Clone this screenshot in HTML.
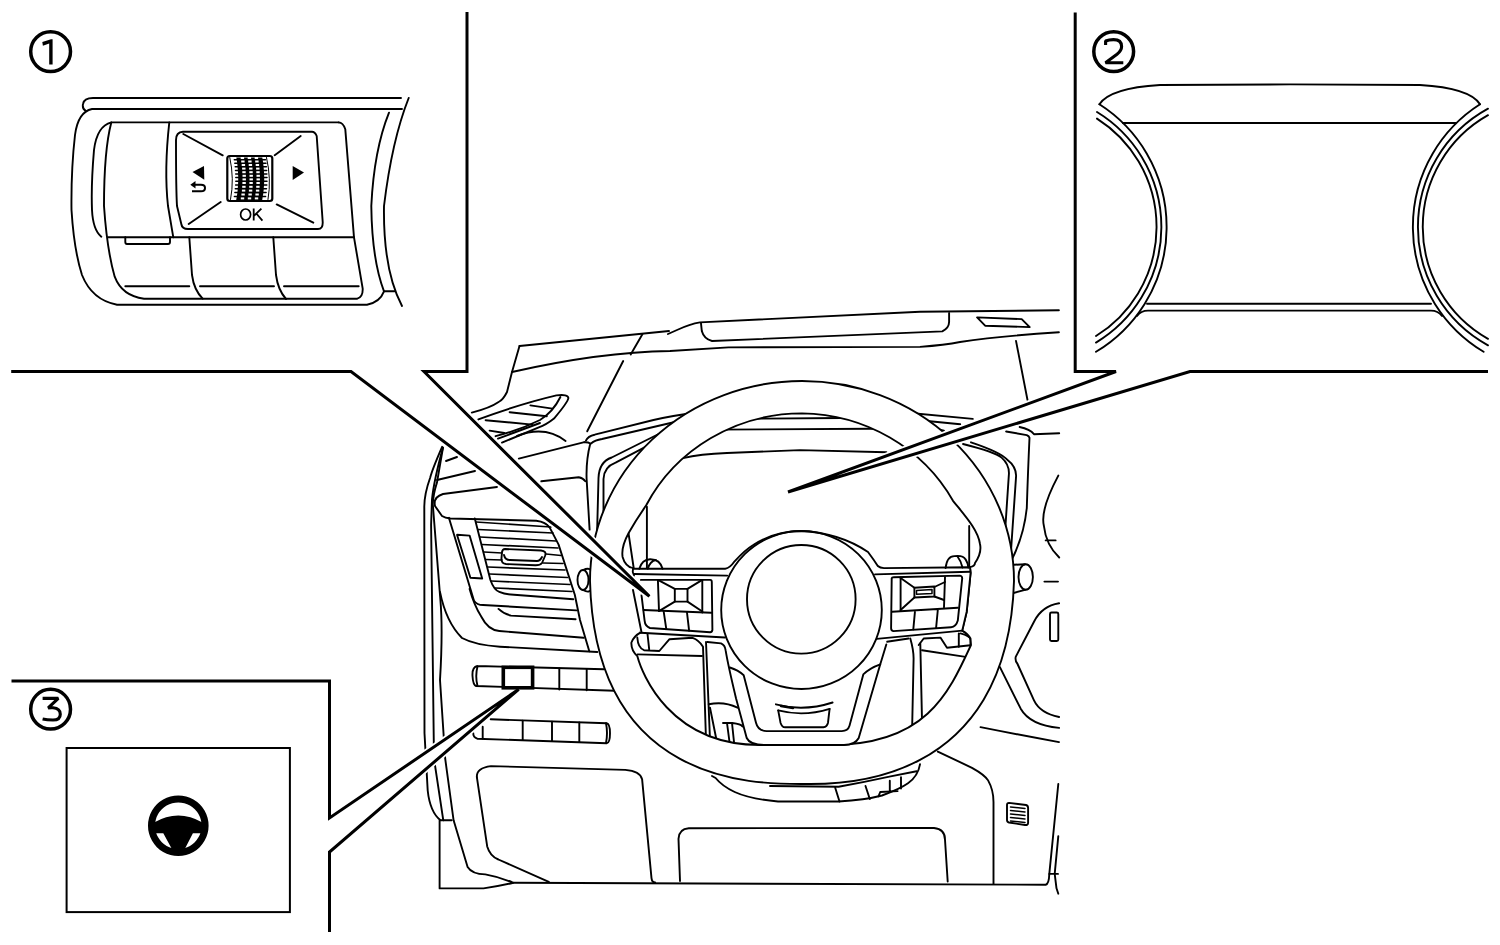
<!DOCTYPE html>
<html><head><meta charset="utf-8">
<style>
html,body{margin:0;padding:0;background:#fff;width:1500px;height:945px;overflow:hidden}
svg{display:block;position:absolute;left:0;top:0}
text{font-family:"Liberation Sans",sans-serif}
</style></head><body>
<svg width="1500" height="945" viewBox="0 0 1500 945">
<g fill="none" stroke="#000" stroke-linecap="round" stroke-linejoin="round">

<!-- ===== CIRCLED NUMBERS ===== -->
<g stroke-width="3.5">
<circle cx="50.6" cy="51.6" r="19.9"/>
<circle cx="1113.7" cy="51.6" r="19.9"/>
<circle cx="50.6" cy="709.2" r="19.9"/>
</g>
<path d="M42.3,42 L51,39.2 L52.6,39.2 L52.6,64.5 L49.2,64.5 L49.2,43.4 L42.9,45.7 Z" fill="#000" stroke="none"/>
<path d="M1105.6,45 L1105.6,41 Q1109,39.6 1113.5,39.6 Q1121.6,39.6 1121.6,46.5 Q1121.6,50.7 1117,54.2 L1105.5,62.8 L1123.3,62.8" stroke-width="3.1" stroke-linecap="butt" stroke-linejoin="bevel"/>
<path d="M42.6,698.4 L58.3,698.4 L48.2,707.9 Q50.5,707.7 53,707.8 Q60.3,708.5 60.3,714.2 Q60.3,720 53,720 Q47,720 42.6,719" stroke-width="3.1" stroke-linecap="butt" stroke-linejoin="bevel"/>

<!-- ===== BOX 1: switch ===== -->
<g stroke-width="1.9">
<path d="M401,98 H93 Q84,98 83,104 Q82,109 86,111"/>
<path d="M402,109 H92 Q78,112 75,135 Q71,170 71.5,210 Q74,250 82,275 Q92,300 117,304.7 H367 Q380,302 384,291.3"/>
<path d="M408.7,98 Q392,140 384,206 Q383,270 402,306"/>
<path d="M389,112.7 Q374,150 371.3,206 Q372,260 384,291.3 H394.7"/>
<path d="M338.7,122.4 H111.3 Q97,126 94,150 Q91,185 92,210 Q93,230 101.3,236.7"/>
<path d="M111.3,122.4 Q104,150 104,206 Q107,250 114.7,276.7 Q122,296 144,298.7 H357.3 Q363,297 362.7,288.7 L354,237.3 L345.3,129.3 Q343,122.4 338.7,122.4"/>
<path d="M169.3,122.4 Q164,170 168,206 L173.3,237.3"/>
<path d="M108,237.3 H354"/>
<path d="M125.3,237.3 V242 Q125.3,244 127,244 H168 Q170,244 170,242 V237.3"/>
<path d="M189.3,237.3 Q191,260 192,275 Q194,290 202.7,298.7"/>
<path d="M273.3,237.3 Q275,260 276,275 Q278,290 286,299"/>
<path d="M125.3,286.3 H189.3 M200,286.3 H274 M284,286.3 H358.7"/>
<!-- OK panel -->
<path d="M312,131.7 H183 Q176,132 176,140 Q176,190 177,206 L181.3,224 Q182,229 188,229 H318 Q323,229 322.7,222 L316.7,136 Q315,131.7 312,131.7 Z"/>
<path d="M183.3,134 L222.7,155.3 M274.7,155.3 L300.7,136 M188.7,224 L220.7,202 M276.7,204.4 L313.3,222.7"/>
</g>
<!-- knurled wheel -->
<rect x="227.3" y="156" width="45" height="45" rx="2.5" stroke-width="2.2"/>
<path d="M229.8,157.5 Q234.5,179 230.5,199.5 M266.5,157.5 Q271.5,179 268,199.5" stroke-width="1"/>
<path d="M236.3,157.5 L236.7,159.7 L237.0,161.8 L237.3,163.9 L237.5,166.1 L237.7,168.2 L237.9,170.4 L238.0,172.6 L238.1,174.7 L238.2,176.8 L238.2,179.0 L238.2,181.2 L238.1,183.3 L238.0,185.4 L237.8,187.6 L237.7,189.8 L237.4,191.9 L237.2,194.1 L236.8,196.2 L236.5,198.3 L236.1,200.5 L262.1,200.5 L262.5,198.3 L262.8,196.2 L263.2,194.1 L263.4,191.9 L263.7,189.8 L263.8,187.6 L264.0,185.4 L264.1,183.3 L264.2,181.2 L264.2,179.0 L264.2,176.8 L264.1,174.7 L264.0,172.6 L263.9,170.4 L263.7,168.2 L263.5,166.1 L263.3,163.9 L263.0,161.8 L262.7,159.7 L262.3,157.5 Z" fill="#000" stroke="none"/>
<rect x="240.7" y="157.0" width="3.4" height="2" fill="#fff" stroke="none"/>
<rect x="247.7" y="157.0" width="3.4" height="2" fill="#fff" stroke="none"/>
<rect x="254.7" y="157.0" width="3.4" height="2" fill="#fff" stroke="none"/>
<rect x="241.2" y="160.5" width="3.4" height="2" fill="#fff" stroke="none"/>
<rect x="248.2" y="160.5" width="3.4" height="2" fill="#fff" stroke="none"/>
<rect x="255.2" y="160.5" width="3.4" height="2" fill="#fff" stroke="none"/>
<rect x="241.7" y="164.0" width="3.4" height="2" fill="#fff" stroke="none"/>
<rect x="248.7" y="164.0" width="3.4" height="2" fill="#fff" stroke="none"/>
<rect x="255.7" y="164.0" width="3.4" height="2" fill="#fff" stroke="none"/>
<rect x="242.1" y="167.6" width="3.4" height="2" fill="#fff" stroke="none"/>
<rect x="249.1" y="167.6" width="3.4" height="2" fill="#fff" stroke="none"/>
<rect x="256.1" y="167.6" width="3.4" height="2" fill="#fff" stroke="none"/>
<rect x="242.3" y="171.2" width="3.4" height="2" fill="#fff" stroke="none"/>
<rect x="249.3" y="171.2" width="3.4" height="2" fill="#fff" stroke="none"/>
<rect x="256.3" y="171.2" width="3.4" height="2" fill="#fff" stroke="none"/>
<rect x="242.5" y="174.8" width="3.4" height="2" fill="#fff" stroke="none"/>
<rect x="249.5" y="174.8" width="3.4" height="2" fill="#fff" stroke="none"/>
<rect x="256.5" y="174.8" width="3.4" height="2" fill="#fff" stroke="none"/>
<rect x="242.5" y="178.4" width="3.4" height="2" fill="#fff" stroke="none"/>
<rect x="249.5" y="178.4" width="3.4" height="2" fill="#fff" stroke="none"/>
<rect x="256.5" y="178.4" width="3.4" height="2" fill="#fff" stroke="none"/>
<rect x="242.4" y="182.0" width="3.4" height="2" fill="#fff" stroke="none"/>
<rect x="249.4" y="182.0" width="3.4" height="2" fill="#fff" stroke="none"/>
<rect x="256.4" y="182.0" width="3.4" height="2" fill="#fff" stroke="none"/>
<rect x="242.2" y="185.8" width="3.4" height="2" fill="#fff" stroke="none"/>
<rect x="249.2" y="185.8" width="3.4" height="2" fill="#fff" stroke="none"/>
<rect x="256.2" y="185.8" width="3.4" height="2" fill="#fff" stroke="none"/>
<rect x="241.9" y="189.6" width="3.4" height="2" fill="#fff" stroke="none"/>
<rect x="248.9" y="189.6" width="3.4" height="2" fill="#fff" stroke="none"/>
<rect x="255.9" y="189.6" width="3.4" height="2" fill="#fff" stroke="none"/>
<rect x="241.4" y="193.5" width="3.4" height="2" fill="#fff" stroke="none"/>
<rect x="248.4" y="193.5" width="3.4" height="2" fill="#fff" stroke="none"/>
<rect x="255.4" y="193.5" width="3.4" height="2" fill="#fff" stroke="none"/>
<rect x="240.8" y="197.4" width="3.4" height="2" fill="#fff" stroke="none"/>
<rect x="247.8" y="197.4" width="3.4" height="2" fill="#fff" stroke="none"/>
<rect x="254.8" y="197.4" width="3.4" height="2" fill="#fff" stroke="none"/>
<path d="M234.3,159.8 H237.0 M262.5,159.8 H265.5" stroke-width="1.5"/>
<path d="M234.8,163.2 H237.5 M263.0,163.2 H266.0" stroke-width="1.5"/>
<path d="M235.2,166.8 H237.9 M263.4,166.8 H266.4" stroke-width="1.5"/>
<path d="M235.5,170.4 H238.2 M263.7,170.4 H266.7" stroke-width="1.5"/>
<path d="M235.7,174.0 H238.4 M263.9,174.0 H266.9" stroke-width="1.5"/>
<path d="M235.8,177.6 H238.5 M264.0,177.6 H267.0" stroke-width="1.5"/>
<path d="M235.8,181.2 H238.5 M264.0,181.2 H267.0" stroke-width="1.5"/>
<path d="M235.6,184.9 H238.3 M263.8,184.9 H266.8" stroke-width="1.5"/>
<path d="M235.3,188.7 H238.0 M263.5,188.7 H266.5" stroke-width="1.5"/>
<path d="M234.9,192.6 H237.6 M263.1,192.6 H266.1" stroke-width="1.5"/>
<path d="M234.4,196.4 H237.1 M262.6,196.4 H265.6" stroke-width="1.5"/>
<g fill="#000" stroke="none">
<path d="M192.5,172 L204,166 L204.3,179.7 Z"/>
<path d="M292.7,166 L304,172.5 L292.7,180 Z"/>
<path d="M190.3,184.7 L195.5,181 L195.5,188.5 Z"/>
</g>
<path d="M194,184.8 H201 Q205,184.8 205,188 Q205,191.3 201,191.3 H192" stroke-width="2" stroke-linecap="butt"/>
<ellipse cx="245.6" cy="214.5" rx="5.0" ry="5.5" stroke-width="1.7"/>
<path d="M253.7,208.6 V220.6 M261.4,208.6 L253.9,215.8 M256.3,213.5 L262.4,220.6" stroke-width="1.8" stroke-linecap="butt"/>

<!-- ===== BOX 2: display ===== -->
<g stroke-width="1.9">
<path d="M1099.4,104.3 Q1110,88 1160,85 L1290,84.4 L1420,85 Q1470,88 1480,104.3"/>
<path d="M1122.8,123 H1456.2"/>
<path d="M1147,303.8 H1431"/>
<path d="M1137,316 Q1141,310.6 1148,310.6 H1431 Q1438,310.6 1442,316"/>
<path d="M1099.4,104.3 A145.6,145.6 0 0 1 1096,351.8"/>
<path d="M1097,112 A134.9,134.9 0 0 1 1096,342.6"/>
<path d="M1097,118.6 A128.4,128.4 0 0 1 1096,336"/>
<path d="M1480,104.3 A145.6,145.6 0 0 0 1483.6,351.8"/>
<path d="M1488,108.7 A134.9,134.9 0 0 0 1488,345.3"/>
<path d="M1488,115.2 A128.4,128.4 0 0 0 1488,338.8"/>
</g>

<!-- ===== BOX 3 ===== -->
<rect x="66.6" y="748" width="223.3" height="164.1" stroke-width="2" stroke-linecap="butt" stroke-linejoin="miter"/>
<g stroke="none" fill="#000">
<path fill-rule="evenodd" d="M178.3,795.4 A30.3,30.3 0 1 1 178.29,795.4 Z M178.3,802.4 A23.3,23.3 0 1 0 178.31,802.4 Z"/>
<path d="M154,822.5 Q178.3,808.4 202.5,822.5 L202.5,833.3 L192.9,833.3 L184.8,849 L171.9,849 L163.3,833.3 L154,833.3 Z"/>
</g>

<!-- ===== LAYER A: background dashboard ===== -->
<g stroke-width="1.9">
<!-- top dash -->
<path d="M519.5,346 L669,331"/>
<path d="M668,334 L677,330 Q690,324 700,322.4 L920,311.7 L1058.9,310.3"/>
<path d="M519.5,346 L512,372 L507,392 Q503,400 498.6,402 Q490,408 471.8,412.6"/>
<path d="M512,372 Q600,352 670,351 L728.5,347.4 L920,346.9 Q945,345 960,342 Q1000,336 1058.9,332.3"/>
<path d="M642.4,334.3 L630.7,354.4"/>
<path d="M623.2,361 L587.2,431.3"/>
<path d="M701,323.4 L701.8,331 Q704,339 712,341 L942.3,331.4 Q949,328 949.1,322 L949.1,312.9"/>
<path d="M977.1,317.4 L1021.7,319.1 L1029.7,327.1 L985.1,325.7 Z"/>
<path d="M1016,340.9 L1027.5,400"/>
<!-- small vent -->
<path d="M478.4,419.4 Q520,404 556.4,395.4 Q568,394 568.4,398 Q568,402 554,418.6 Q546,425 538.8,427.4 L502,442.6"/>
<path d="M560.4,397 Q553,412 540,420 Q520,430 495.6,436.2"/>
<path d="M498,438.6 L540,423"/>
<path d="M530.4,405.4 L552.4,408.6 M509.6,412.2 L546.8,416.2 M485.6,420.2 L532.4,424.6 M489.6,430.6 L504.4,433"/>
<path d="M517,436 Q545,425 565.6,441"/>
<path d="M518.8,458.6 L584.4,442.2"/>
<!-- left pillar -->
<path d="M442.1,446.8 Q432,470 430.3,477.3 Q424,495 424.3,507.8 L424.5,733.3 L427.7,790.5 Q430,812 440.5,820.3 L451.7,820.3"/>
<path d="M443,447.6 Q434,480 432,499.3 L431.1,524.7 L434,758.7 L443.3,820.3"/>
<path d="M443,447.6 L437,482.4 Q433,495 432.8,504.4 L440.4,600 Q443,630 440,680 L445.2,758.7 L453.6,820.3 L467.6,866.9 Q472,874 485.3,874.4 Q500,877 513.3,882.8 Q500,886 483.5,888.4 L439.6,888.4 L439.6,820.3"/>
<path d="M446,461 L457,457"/>
<path d="M437,480 L475,471"/>
<!-- main vent -->
<path d="M497,487 L443,494 Q433,497 435,506 L442,516 Q445,518 450.4,518.5 L536.3,520.7 Q546,522 549.6,527.4 L558.5,544.4 L574.8,594.8 L580,620 L589.3,651.3"/>
<path d="M474.8,518.5 L490.4,580 Q494,590 499.3,591.9 Q505,594.5 514,594.8 L573.3,599.3"/>
<path d="M448.9,517.8 L474,600.7 Q477,605 483,605 L576.3,610.4"/>
<path d="M498.5,608.9 Q504,614 511,615.6 L575.6,619.3"/>
<path d="M440,591.9 Q446,622 462,638 Q475,645 500,646.7 L597.3,652"/>
<path d="M469.6,588.9 Q474,605 481.5,617 Q488,630 499.3,631 L583.7,637.8"/>
<path d="M457,534.8 L469.6,535.6 L482.2,578.5 L470.4,577.8 Z"/>
<path d="M505,549 L541,550.5 Q547,551 545,556 L542,563 Q540,565.5 535,565.3 L506,564 Q501,563.5 501.5,558 L502,552 Q502.5,549 505,549 Z"/>
<path d="M504,555 Q505,560 510,560 L537,561 Q540,561 542,557"/>
<g stroke-width="1.7">
<path d="M476,522 L551,527 M478,529.5 L553,533 M480,537 L556,541 M482,544.5 L558,548 M484,552 L502,553 M546,554 L561,555.5 M486,559.5 L502,560 M543,563 L563,563.5 M488,567 L565,570 M489.5,574 L567.5,577.5 M491,581 L570,584.5 M495,588 L572,591.5"/>
</g>
<ellipse cx="583" cy="580" rx="5.5" ry="10"/>
<path d="M583,570 Q592,566 592,575 M583,590 Q590,594 592,588"/>
<!-- switch rows -->
<path d="M477.3,666 L604,669.3 M476,686 L614.7,690.7 M477.3,666 Q472,667 472.5,676 Q473,685 476,686 M477.5,666.5 Q475,676 477.5,686"/>
<path d="M559.3,668.5 L559.3,689.5 M586.7,669.2 L586.7,690.3"/>
<path d="M490.7,719.3 L606.7,723.3 Q610,724 610,733.3 Q610,743 606.7,743.3 L477.3,738.7 Q473,737 473.3,733.3"/>
<path d="M482.7,726.7 L482.7,738.5 M522.7,720.6 L522.7,740 M552,721.6 L552,741 M579.3,722.5 L579.3,742 M606,723.3 Q608,733 606,743"/>
<!-- knee panel + bottom -->
<path d="M476.9,777.3 Q476,768 490.9,766.1 L625.3,769.9 Q640,771 642.1,779.2 L651.5,878.1 Q652,882.5 655.2,882.5"/>
<path d="M476.9,777.3 L487.2,846.4 Q490,856 498.4,859.5 L548.8,881.9"/>
<path d="M513.3,882.8 L1045.7,884.7 Q1049,884 1049.3,873.9 L1058.3,784"/>
<path d="M680,881 L678.5,838.9 Q679,828.7 688.8,828.2 L934,828 Q945,829 945,839.7 L947.7,881.5"/>
<path d="M937.8,751.6 L972,767.8 Q985,775 988.1,780.4 Q993.5,790 993.5,802 L993.5,884"/>
<path d="M980.5,727.1 Q1020,735 1059,742.1"/>
<path d="M1009,802.9 L1026,805 Q1028.1,805.5 1028.1,808 L1028.1,823 Q1028,825.3 1025,825 L1009,822.5 Q1007,822 1007,820 L1007,805 Q1007,802.9 1009,802.9 Z"/>
<path d="M1010.5,807 L1025,808.5 M1010.5,810.5 L1025,812 M1010.5,814 L1025,815.5 M1010.5,817.5 L1025,819 M1010.5,821 L1025,822.5" stroke-width="1.5"/>
<path d="M1058.3,836.1 L1054.7,873.9 L1056.5,888.3 L1058.3,893.7 M1049.3,873.9 L1058,873.9"/>
<!-- right side -->
<path d="M1059.1,603.3 Q1042,606 1034,621.7 L1015.7,656.9 Q1015,661 1017.3,663.5 L1034,700.3 Q1040,713 1059.1,717"/>
<path d="M999.8,666.9 L1020.7,708.7 Q1030,725 1059.1,727.9"/>
<rect x="1050" y="612.5" width="8.3" height="28.5" rx="1.5"/>
<path d="M1058.3,475.6 Q1040,510 1043.9,526 Q1046,545 1059.2,557.5"/>
<path d="M1045.7,540.4 L1055.6,540.4"/>
<path d="M1006.1,431.5 L1026.8,435.1 Q1029,436 1029.5,437.8 Q1028,470 1026.8,508 Q1024,535 1012.4,558.4"/>
<path d="M1019.6,427 Q1030,429 1034,434.2 L1059.2,433.3"/>
<ellipse cx="1025.7" cy="577" rx="7.2" ry="12.8"/>
<path d="M1010,565 L1025,564.2 M1010,594 L1025,589.8 M1044.4,581.6 L1058,581.6"/>
<!-- hood left -->
<path d="M584.4,442.2 Q588,442 590.3,443.5 Q586,460 586.6,478.8 L589.6,529.6"/>
<path d="M585.9,440.6 Q588,436 594.7,434.7 L653.5,420 Q670,416 700,412"/>
<path d="M591,443.5 Q595,440 602,439 L677,421.5 L700,416"/>
<path d="M597,536 L598.5,478 Q599,462 611.7,457.5 L658.7,434 L690,420"/>
<path d="M603.5,511 L603.5,479 Q604,467 615.6,462.7 L646,446.7 L660,440"/>
<path d="M541.3,481.3 L578.7,477.3 Q583,478 585.3,481.3"/>
<!-- cluster inside wheel -->
<path d="M740,418.8 L842.2,418 L860,418 M715,429.6 L870.7,428.8 L890,429"/>
<path d="M683,458.2 Q700,454 727,453 L800,450.1 L886.4,452.2"/>
<path d="M905,412.5 L972.8,418.9 M912,419.5 L960.2,424.3 M925,426.5 L944,430.6"/>
<path d="M646.9,506.8 L646.9,570 M969.2,526 L969.2,570"/>
<path d="M628.5,533.2 L633.7,568"/>
<path d="M963,444 Q995,452 1001.6,457.6 Q1010,465 1008.8,475.6 L1005.2,529.6"/>
<path d="M971,442.3 Q1000,452 1007,459.4 Q1017,467 1016,477.4 L1010.6,556.6"/>
<!-- under spokes, left -->
<path d="M637.3,637.5 Q638,648 644,650.2 L659.3,651 L669.5,639.2 L692.6,637.8 Q699,640 703,646.7 L706,740 M647.5,634 L649.2,649.3"/>
<path d="M637.6,654.4 L702,656"/>
<path d="M706,642 L710,740"/>
<path d="M708.7,704.3 Q724,701 737.5,707.7"/>
<path d="M710,707.7 L716.5,740"/>
<path d="M723,723 L732.4,723 Q741,724 742.5,726.4 M727,723 L729.5,742 M732,723 L734,742"/>
<!-- under spokes, right -->
<path d="M886.9,641.8 L908.6,638.5"/>
<path d="M910.3,638.5 Q913.6,650 913.6,658.5 L912,735 M920.3,643.5 L922,720"/>
<path d="M918.7,645 L923.7,638.5 L940.4,637.6 L947,647.7 L970.5,645.2"/>
<path d="M922,650.2 L965.5,656.9"/>
<path d="M960.5,633.4 Q970.5,636 970.5,640 L970.5,645.2 M958.8,633.4 L958.8,646.8"/>
<!-- column shroud -->
<path d="M712,776 L715.6,778 Q722,786 734.7,792 Q750,799 778,801.5 L838.6,801.5 Q865,800 882,795.5 Q900,789 908,783.3 Q918,776 920,764.3"/>
<path d="M770,786 L838.6,786.8 Q865,782 890.6,776.4 L916.6,771.2"/>
<path d="M835.2,787.7 L839.5,801.5 M865.5,786 L869.8,799 M889.8,780.7 L889.8,790.3 M901,777.3 L901,788.5 M878.5,796.3 L880.2,792 L897.6,791.1"/>
</g>
<!-- ===== LAYER B: steering wheel ===== -->
<g stroke-width="1.9">
<!-- rim band -->
<path fill="#fff" fill-rule="evenodd" d="M590,581 A212,200 0 0 1 1014,581 C1008,795 825,784 802,784 C755,784 595,785 590,581 Z M802,413.4 A175,167.6 0 0 0 646.2,505.3 Q636,520 628.5,533.2 Q621,547 622.6,557 Q625,566 633,568.5 L633.5,575 L633,590 L640.7,632.4 Q634,636 631.4,642.5 Q631,650 637.3,656.1 C642,674 670,745 760,745 L830,745 C925,745 948,695 971,645 L970.5,638.5 Q968,634 962.2,630.6 L966.7,611.7 L970.6,572.8 L970,567.2 Q975,566 975,563 Q982,553 980,544 C978,530 966,517 953,500.8 A175,167.6 0 0 0 802,413.4 Z"/>
<!-- spoke assembly fill -->
<path fill="#fff" stroke="none" d="M625,568.5 L725.2,568.8 Q730,568 734.6,561.3 Q745,550 753.2,545 Q775,531 801.5,531 Q840,533 868,552 Q874,560 877.8,566 Q880,568 884,568.1 L970,567.2 L970.6,572.8 L966.7,611.7 L962.2,630.6 L886.3,639 L886.3,644.5 Q884,652 880.2,664.4 L858.7,738 Q855,745 844,745 L764,745 Q750,745 746.7,738 L736,698.2 Q728,665 724.5,644.5 L723.7,639.1 L640.4,632.8 L633,620 L625,590 Z"/>
<!-- spoke lines -->
<path d="M633.5,568.8 L725.2,568.8 Q730,568 734.6,561.3 Q745,550 753.2,545 Q775,531 801.5,531 Q840,533 868,552 Q874,560 877.8,566 Q880,568 884,568.1 L970,567.2 L970.6,572.8 L966.7,611.7 L962.2,630.6"/>
<path d="M634,574 L727.2,575.6 M875,574.4 L970,571.7"/>
<path d="M633,568.2 Q632,572 634,575.6"/>
<path d="M633,590 L641.5,632.2"/>
<path d="M640.4,632.8 L725,637.5 M876.7,638.9 L962.2,630.6"/>
<ellipse cx="801.5" cy="610" rx="80.3" ry="79"/>
<circle cx="801.3" cy="599.3" r="54.3"/>
<!-- V spoke -->
<path d="M707.4,642 L721,643.4 Q725,645 725.6,650.2 Q728,665 736,698.2 L746.7,738 Q750,745 764,745 L844,745 Q855,745 858.7,738 L880.2,664.4 Q884,652 886.3,644.5"/>
<path d="M729.9,667.5 Q738,670 743.7,675.2 L756,722.7 Q758,731 766.7,731.1 L841.8,731.1 Q848,731 849.5,725.8 L863.3,674.4 Q870,668 880.2,664.4"/>
<path d="M775.9,704.3 Q803.5,712 832.6,702.5 M778.2,710.4 Q803.5,717 829.6,708.9"/>
<path d="M778.2,710.4 L780.5,722.7 Q782,727.3 785.1,727.3 L823.4,727.3 Q827,727 828,722.7 L829.6,708.9"/>
<path d="M781,706 L793,708" stroke-width="2.5"/>
<!-- left pod -->
<path d="M639.3,568.8 Q642,559.5 650,559.2 Q660,559 662.6,568.8 M647.8,568.8 Q650,561 656,560"/>
<path d="M640.9,579.9 L710.2,579.9 Q711.8,580 711.8,582 L712.4,630 Q712,632.2 710.2,632.2 L649.9,628 Q645,626 644.6,620.6 L641.5,595.2"/>
<path d="M657.9,579.9 L659,611.1 M702.3,579.9 L702.3,612.5"/>
<rect x="674.8" y="588.9" width="12.7" height="12.7"/>
<path d="M657.9,579.9 L674.8,588.9 M702.3,579.9 L687.5,588.9 M659,611.1 L674.8,601.6 M702.3,611.5 L687.5,601.6"/>
<path d="M643.6,610 L711.3,612.7"/>
<path d="M663.7,611.6 L666.3,629.1 M687,612.7 L689.1,630.7"/>
<!-- right pod -->
<path d="M945.6,568 Q947,556 954.4,556.1 Q963,555 965.6,559.4 Q968,563 968.3,567.5 M957.5,556.5 Q961,561 962.5,567.5"/>
<path d="M893.3,577.2 L960,575.6 Q962.2,576 962.2,578.3 L957.8,620.6 Q956,627 951.1,627.2 L893.3,631.1 Q891,630.5 891.1,628.3 L891.7,578.3 Q892,577.2 893.3,577.2 Z"/>
<path d="M900.6,577.5 L900.6,610.6 M945,577.2 L944,607.2"/>
<path d="M900.6,578 L914.4,587.8 M945,582 L934.4,587 M900.6,610 L914.4,597.5 M944,600 L934.4,596.5"/>
<path d="M914.4,587.8 L934.4,586.5 L934.4,596.5 L914.4,597.5 Z"/>
<path d="M916.5,590.5 L932,589.5 L932,593.5 L916.5,594.3 Z" stroke-width="1.5"/>
<path d="M892.2,611.7 L957.8,607.8 M915,611.1 L913.3,629.4 M937.8,610 L936.1,627.8"/>
</g>

</g>
<!-- ===== LAYER C: callouts ===== -->
<g fill="#fff" stroke="none">
<polygon points="351,371.5 424,371.5 649.4,596.3"/>
<polygon points="1116,371.5 1190,371.5 788,492"/>
<polygon points="329.5,818 329.5,852 518.7,689.3"/>
</g>
<g fill="none" stroke="#fff" stroke-width="6.5" stroke-linecap="butt" stroke-linejoin="miter">
<polyline points="424,371.5 649.4,596.3 351,371.5"/>
<polyline points="1116,371.5 788,492 1190,371.5"/>
<polyline points="329.5,818 518.7,689.3 329.5,852"/>
</g>
<g fill="none" stroke="#000" stroke-width="3" stroke-linecap="butt" stroke-linejoin="miter">
<polyline points="467,12 467,371.5 424,371.5 649.4,596.3 351,371.5 11.2,371.5"/>
<polyline points="1075.2,12.5 1075.2,371.5 1116,371.5 788,492 1190,371.5 1488,371.5"/>
<polyline points="11.5,681 329.5,681 329.5,818 518.7,689.3 329.5,852 329.5,932"/>
<rect x="503.3" y="667.3" width="29.3" height="20.5" stroke-width="3.6"/>
</g>

</svg>
</body></html>
